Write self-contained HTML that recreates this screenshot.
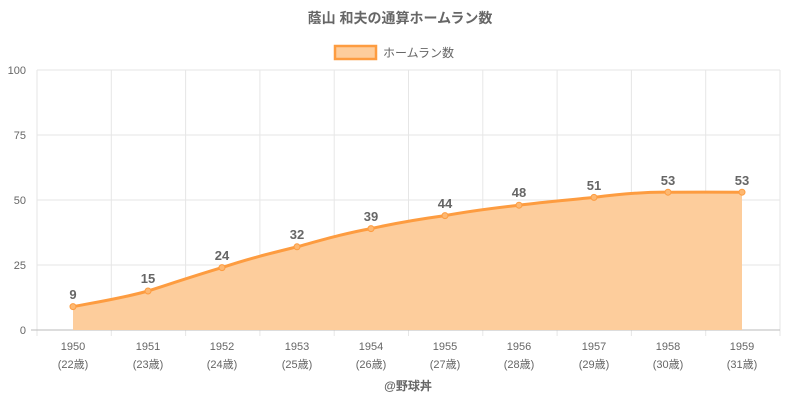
<!DOCTYPE html>
<html><head><meta charset="utf-8"><style>
body{margin:0;background:#fff;}
svg{display:block;font-family:"Liberation Sans","Noto Sans CJK JP",sans-serif;}
</style></head><body>
<svg width="800" height="400" viewBox="0 0 800 400" xmlns="http://www.w3.org/2000/svg">
<text x="400" y="23" text-anchor="middle" font-size="14" font-weight="bold" fill="#666">蔭山 和夫の通算ホームラン数</text>
<rect x="335" y="46" width="41" height="13" fill="#fdcd9c" stroke="#fd9c40" stroke-width="2.5"/>
<text x="383" y="57" font-size="12" fill="#666">ホームラン数</text>
<g stroke="#e6e6e6" stroke-width="1">
<line x1="37" y1="70" x2="780" y2="70"/>
<line x1="37" y1="135" x2="780" y2="135"/>
<line x1="37" y1="200" x2="780" y2="200"/>
<line x1="37" y1="265" x2="780" y2="265"/>
<line x1="37" y1="70" x2="37" y2="336"/>
<line x1="111.3" y1="70" x2="111.3" y2="336"/>
<line x1="185.6" y1="70" x2="185.6" y2="336"/>
<line x1="259.9" y1="70" x2="259.9" y2="336"/>
<line x1="334.2" y1="70" x2="334.2" y2="336"/>
<line x1="408.5" y1="70" x2="408.5" y2="336"/>
<line x1="482.8" y1="70" x2="482.8" y2="336"/>
<line x1="557.1" y1="70" x2="557.1" y2="336"/>
<line x1="631.4" y1="70" x2="631.4" y2="336"/>
<line x1="705.7" y1="70" x2="705.7" y2="336"/>
<line x1="780" y1="70" x2="780" y2="336"/>
</g>
<line x1="31" y1="330" x2="780" y2="330" stroke="#bbb"/>
<g font-size="11" fill="#666" text-anchor="end">
<text x="26" y="74">100</text><text x="26" y="139">75</text><text x="26" y="204">50</text><text x="26" y="269">25</text><text x="26" y="334">0</text>
</g>
<path d="M73,306.6 C98,302 123,298 148,291 C173,283 197,275 222,267.6 C247,259 272,253 297,246.8 C322,240 346,233 371,228.6 C396,223 420,219 445,215.6 C470,211 494,208 519,205.2 C544,202 569,200 594,197.4 C619,194 643,192 668,192.2 C693,192 717,192.2 742,192.2 L742,330 L73,330 Z" fill="#fdcd9c"/>
<path d="M73,306.6 C98,302 123,298 148,291 C173,283 197,275 222,267.6 C247,259 272,253 297,246.8 C322,240 346,233 371,228.6 C396,223 420,219 445,215.6 C470,211 494,208 519,205.2 C544,202 569,200 594,197.4 C619,194 643,192 668,192.2 C693,192 717,192.2 742,192.2" fill="none" stroke="#fd9c40" stroke-width="3"/>
<g fill="#fdb872" stroke="#fd9c40" stroke-width="1">
<circle cx="73" cy="306.6" r="3"/><circle cx="148" cy="291" r="3"/><circle cx="222" cy="267.6" r="3"/><circle cx="297" cy="246.8" r="3"/><circle cx="371" cy="228.6" r="3"/><circle cx="445" cy="215.6" r="3"/><circle cx="519" cy="205.2" r="3"/><circle cx="594" cy="197.4" r="3"/><circle cx="668" cy="192.2" r="3"/><circle cx="742" cy="192.2" r="3"/>
</g>
<g font-size="13" font-weight="bold" fill="#666" text-anchor="middle">
<text x="73" y="299">9</text><text x="148" y="283">15</text><text x="222" y="260">24</text><text x="297" y="239">32</text><text x="371" y="221">39</text><text x="445" y="208">44</text><text x="519" y="197">48</text><text x="594" y="190">51</text><text x="668" y="185">53</text><text x="742" y="185">53</text>
</g>
<g font-size="11" fill="#666" text-anchor="middle">
<text x="73" y="350">1950</text><text x="148" y="350">1951</text><text x="222" y="350">1952</text><text x="297" y="350">1953</text><text x="371" y="350">1954</text><text x="445" y="350">1955</text><text x="519" y="350">1956</text><text x="594" y="350">1957</text><text x="668" y="350">1958</text><text x="742" y="350">1959</text>
<text x="73" y="368">(22歳)</text><text x="148" y="368">(23歳)</text><text x="222" y="368">(24歳)</text><text x="297" y="368">(25歳)</text><text x="371" y="368">(26歳)</text><text x="445" y="368">(27歳)</text><text x="519" y="368">(28歳)</text><text x="594" y="368">(29歳)</text><text x="668" y="368">(30歳)</text><text x="742" y="368">(31歳)</text>
</g>
<text x="408" y="390" text-anchor="middle" font-size="12" font-weight="bold" fill="#666">@野球丼</text>
</svg>
</body></html>
